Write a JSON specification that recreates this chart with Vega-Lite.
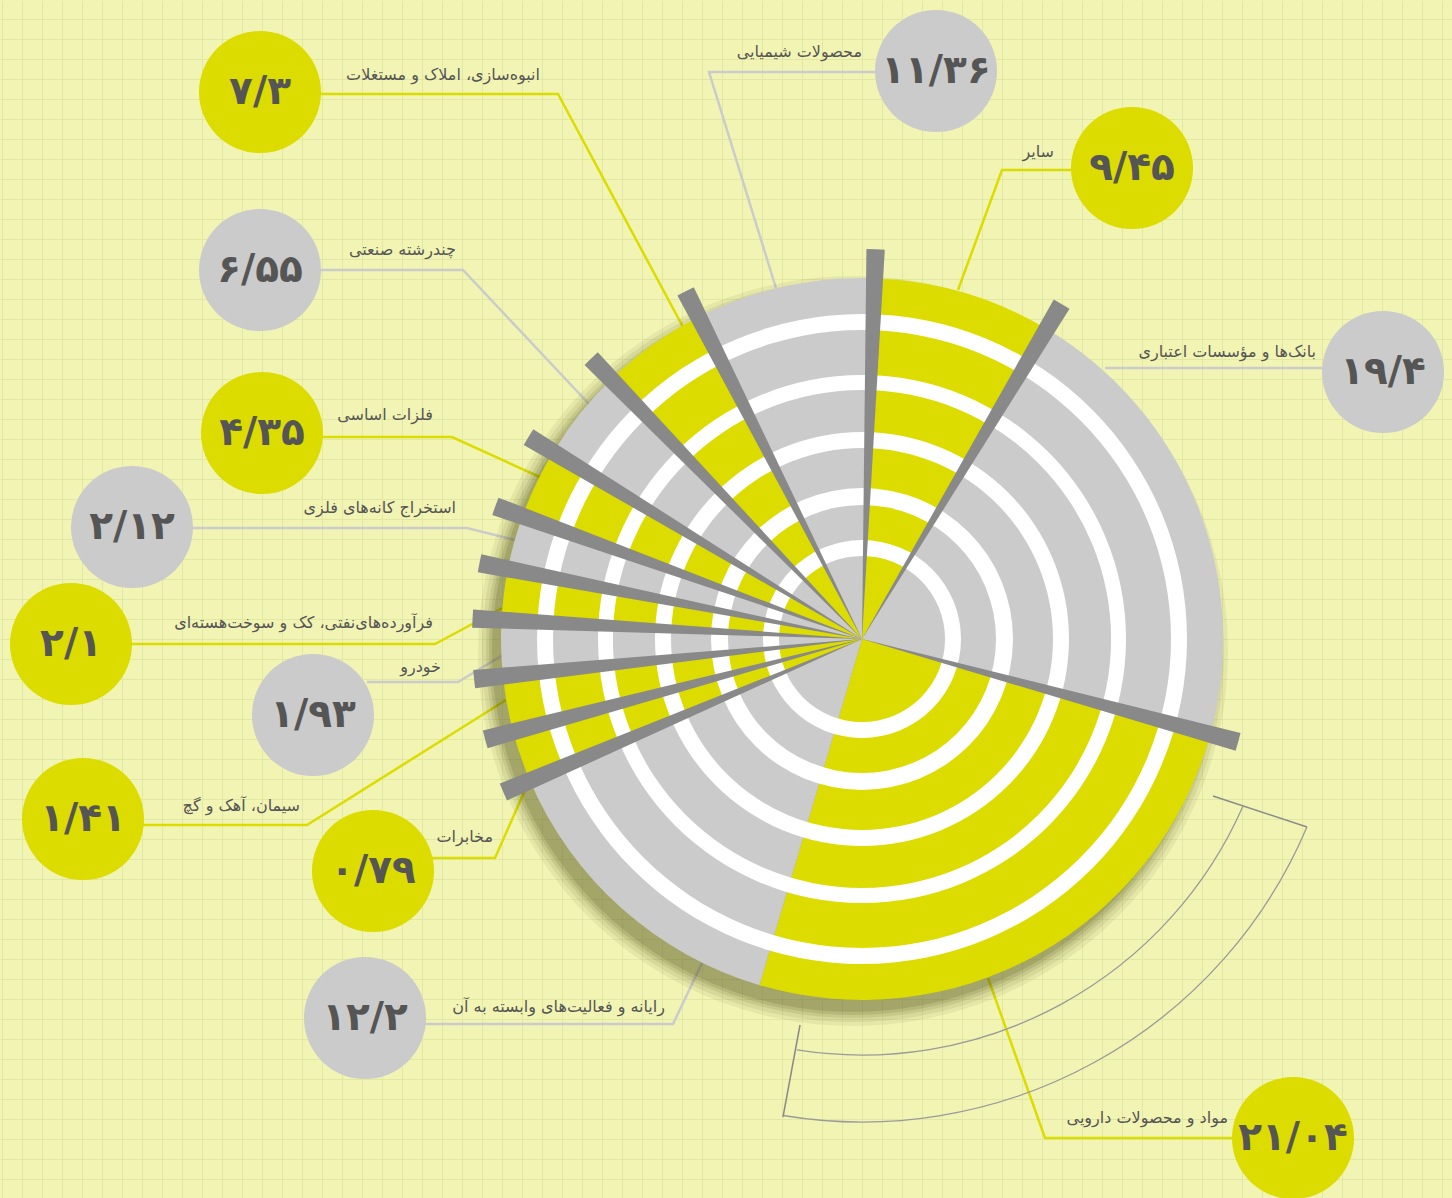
{
  "$schema": "https://vega.github.io/schema/vega-lite/v6.json",
  "width": 1452,
  "height": 1198,
  "autosize": {"type": "none"},
  "padding": 0,
  "background": "#f2f4b4",
  "config": {
    "view": {"stroke": null},
    "axis": {"grid": true, "gridColor": "#e1e8a3", "gridWidth": 1, "domain": false, "ticks": false, "labels": false, "title": null},
    "axisX": {"tickCount": 75},
    "axisY": {"tickCount": 60}
  },
  "datasets": {
    "sectors": [
      {"name": "سایر", "v": "۹/۴۵", "a0": 2.0, "a1": 30.8, "c": "y", "cx": 270, "cy": 471, "tx": 192, "ty": 487},
      {"name": "بانک‌ها و مؤسسات اعتباری", "v": "۱۹/۴", "a0": 30.8, "a1": 105.3, "c": "g", "cx": 521, "cy": 267, "tx": 454, "ty": 287},
      {"name": "مواد و محصولات دارویی", "v": "۲۱/۰۴", "a0": 105.3, "a1": 196.5, "c": "y", "cx": 431, "cy": -499, "tx": 366, "ty": -479},
      {"name": "رایانه و فعالیت‌های وابسته به آن", "v": "۱۲/۲", "a0": 196.5, "a1": 246.9, "c": "g", "cx": -497, "cy": -379, "tx": -197, "ty": -368},
      {"name": "مخابرات", "v": "۰/۷۹", "a0": 246.9, "a1": 255.1, "c": "y", "cx": -489, "cy": -232, "tx": -369, "ty": -198},
      {"name": "سیمان، آهک و گچ", "v": "۱/۴۱", "a0": 255.1, "a1": 264.1, "c": "y", "cx": -779, "cy": -180, "tx": -562, "ty": -167},
      {"name": "خودرو", "v": "۱/۹۳", "a0": 264.1, "a1": 273.0, "c": "g", "cx": -549, "cy": -76, "tx": -421, "ty": -28},
      {"name": "فرآورده‌های‌نفتی، کک و سوخت‌هسته‌ای", "v": "۲/۱", "a0": 273.0, "a1": 281.2, "c": "y", "cx": -791, "cy": -5, "tx": -429, "ty": 16},
      {"name": "استخراج کانه‌های فلزی", "v": "۲/۱۲", "a0": 281.2, "a1": 289.9, "c": "g", "cx": -730, "cy": 112, "tx": -406, "ty": 131},
      {"name": "فلزات اساسی", "v": "۴/۳۵", "a0": 289.9, "a1": 301.2, "c": "y", "cx": -600, "cy": 206, "tx": -429, "ty": 224},
      {"name": "چندرشته صنعتی", "v": "۶/۵۵", "a0": 301.2, "a1": 316.0, "c": "g", "cx": -602, "cy": 369, "tx": -406, "ty": 389},
      {"name": "انبوه‌سازی، املاک و مستغلات", "v": "۷/۳", "a0": 316.0, "a1": 333.1, "c": "y", "cx": -602, "cy": 547, "tx": -322, "ty": 564},
      {"name": "محصولات شیمیایی", "v": "۱۱/۳۶", "a0": 333.1, "a1": 362.0, "c": "g", "cx": 74, "cy": 568, "tx": 0, "ty": 587}
    ],
    "wedges": [
      {"w0": 0.65, "w1": 3.35},
      {"w0": 29.45, "w1": 32.15},
      {"w0": 103.95, "w1": 106.65},
      {"w0": 245.55, "w1": 248.25},
      {"w0": 253.75, "w1": 256.45},
      {"w0": 262.75, "w1": 265.45},
      {"w0": 271.65, "w1": 274.35},
      {"w0": 279.85, "w1": 282.55},
      {"w0": 288.55, "w1": 291.25},
      {"w0": 299.85, "w1": 302.55},
      {"w0": 314.65, "w1": 317.35},
      {"w0": 331.75, "w1": 334.45}
    ],
    "leaders": [
      {"id": 1, "o": 0, "x": 13, "y": 567, "c": "g"}, {"id": 1, "o": 1, "x": -153, "y": 567, "c": "g"}, {"id": 1, "o": 2, "x": -86, "y": 351, "c": "g"},
      {"id": 2, "o": 0, "x": 210, "y": 469, "c": "y"}, {"id": 2, "o": 1, "x": 140, "y": 469, "c": "y"}, {"id": 2, "o": 2, "x": 96, "y": 349, "c": "y"},
      {"id": 3, "o": 0, "x": 461, "y": 271, "c": "g"}, {"id": 3, "o": 1, "x": 243, "y": 271, "c": "g"},
      {"id": 4, "o": 0, "x": 370, "y": -499, "c": "y"}, {"id": 4, "o": 1, "x": 183, "y": -499, "c": "y"}, {"id": 4, "o": 2, "x": 126, "y": -339, "c": "y"},
      {"id": 5, "o": 0, "x": -437, "y": -385, "c": "g"}, {"id": 5, "o": 1, "x": -189, "y": -385, "c": "g"}, {"id": 5, "o": 2, "x": -160, "y": -324, "c": "g"},
      {"id": 6, "o": 0, "x": -430, "y": -219, "c": "y"}, {"id": 6, "o": 1, "x": -367, "y": -219, "c": "y"}, {"id": 6, "o": 2, "x": -333, "y": -142, "c": "y"},
      {"id": 7, "o": 0, "x": -719, "y": -186, "c": "y"}, {"id": 7, "o": 1, "x": -555, "y": -186, "c": "y"}, {"id": 7, "o": 2, "x": -356, "y": -61, "c": "y"},
      {"id": 8, "o": 0, "x": -495, "y": -43, "c": "g"}, {"id": 8, "o": 1, "x": -404, "y": -43, "c": "g"}, {"id": 8, "o": 2, "x": -359, "y": -16, "c": "g"},
      {"id": 9, "o": 0, "x": -730, "y": -5, "c": "y"}, {"id": 9, "o": 1, "x": -427, "y": -5, "c": "y"}, {"id": 9, "o": 2, "x": -360, "y": 31, "c": "y"},
      {"id": 10, "o": 0, "x": -669, "y": 111, "c": "g"}, {"id": 10, "o": 1, "x": -395, "y": 111, "c": "g"}, {"id": 10, "o": 2, "x": -347, "y": 99, "c": "g"},
      {"id": 11, "o": 0, "x": -540, "y": 202, "c": "y"}, {"id": 11, "o": 1, "x": -410, "y": 202, "c": "y"}, {"id": 11, "o": 2, "x": -320, "y": 161, "c": "y"},
      {"id": 12, "o": 0, "x": -542, "y": 369, "c": "g"}, {"id": 12, "o": 1, "x": -399, "y": 369, "c": "g"}, {"id": 12, "o": 2, "x": -272, "y": 234, "c": "g"},
      {"id": 13, "o": 0, "x": -542, "y": 545, "c": "y"}, {"id": 13, "o": 1, "x": -304, "y": 545, "c": "y"}, {"id": 13, "o": 2, "x": -179, "y": 312, "c": "y"}
    ],
    "ticks": [
      {"x": 351, "y": -157, "x2": 445, "y2": -188},
      {"x": -62, "y": -386, "x2": -79, "y2": -478}
    ],
    "brackets": [
      {"b0": 113.7, "b1": 189.0}
    ],
    "brackets2": [
      {"b0": 112.9, "b1": 189.4}
    ]
  },
  "layer": [
    {
      "data": {"name": "leaders"},
      "mark": {"type": "line", "strokeWidth": 2.5},
      "encoding": {
        "x": {"field": "x", "type": "quantitative", "scale": {"domain": [-862, 590], "nice": false, "zero": false}},
        "y": {"field": "y", "type": "quantitative", "scale": {"domain": [-559, 639], "nice": false, "zero": false}},
        "detail": {"field": "id", "type": "nominal"},
        "order": {"field": "o", "type": "quantitative"},
        "color": {"field": "c", "type": "nominal", "scale": {"domain": ["y", "g"], "range": ["#dcdc00", "#cbcbcb"]}, "legend": null}
      }
    },
    {
      "data": {"values": [{}]},
      "mark": {"type": "arc", "outerRadius": 375, "theta": 0, "theta2": 6.2832, "fill": "#4d4d12", "opacity": 0.07},
      "encoding": {
        "x": {"datum": -9, "type": "quantitative", "scale": {"domain": [-862, 590], "nice": false, "zero": false}},
        "y": {"datum": -12, "type": "quantitative", "scale": {"domain": [-559, 639], "nice": false, "zero": false}}
      }
    },
    {
      "data": {"values": [{}]},
      "mark": {"type": "arc", "outerRadius": 371, "theta": 0, "theta2": 6.2832, "fill": "#4d4d12", "opacity": 0.09},
      "encoding": {
        "x": {"datum": -9, "type": "quantitative", "scale": {"domain": [-862, 590], "nice": false, "zero": false}},
        "y": {"datum": -12, "type": "quantitative", "scale": {"domain": [-559, 639], "nice": false, "zero": false}}
      }
    },
    {
      "data": {"values": [{}]},
      "mark": {"type": "arc", "outerRadius": 367, "theta": 0, "theta2": 6.2832, "fill": "#4d4d12", "opacity": 0.11},
      "encoding": {
        "x": {"datum": -9, "type": "quantitative", "scale": {"domain": [-862, 590], "nice": false, "zero": false}},
        "y": {"datum": -12, "type": "quantitative", "scale": {"domain": [-559, 639], "nice": false, "zero": false}}
      }
    },
    {
      "data": {"values": [{}]},
      "mark": {"type": "arc", "outerRadius": 364, "theta": 0, "theta2": 6.2832, "fill": "#4d4d12", "opacity": 0.14},
      "encoding": {
        "x": {"datum": -9, "type": "quantitative", "scale": {"domain": [-862, 590], "nice": false, "zero": false}},
        "y": {"datum": -12, "type": "quantitative", "scale": {"domain": [-559, 639], "nice": false, "zero": false}}
      }
    },
    {
      "data": {"values": [{}]},
      "mark": {"type": "arc", "outerRadius": 361, "theta": 0, "theta2": 6.2832, "fill": "#4d4d12", "opacity": 0.17},
      "encoding": {
        "x": {"datum": -9, "type": "quantitative", "scale": {"domain": [-862, 590], "nice": false, "zero": false}},
        "y": {"datum": -12, "type": "quantitative", "scale": {"domain": [-559, 639], "nice": false, "zero": false}}
      }
    },
    {
      "data": {"name": "sectors"},
      "mark": {"type": "arc", "outerRadius": 361},
      "encoding": {
        "x": {"datum": 0, "type": "quantitative", "scale": {"domain": [-862, 590], "nice": false, "zero": false}},
        "y": {"datum": 0, "type": "quantitative", "scale": {"domain": [-559, 639], "nice": false, "zero": false}},
        "theta": {"field": "a0", "type": "quantitative", "stack": null, "scale": {"domain": [0, 360], "range": [0, 6.283185307179586]}},
        "theta2": {"field": "a1"},
        "color": {"field": "c", "type": "nominal", "scale": {"domain": ["y", "g"], "range": ["#dcdc00", "#cbcbcb"]}, "legend": null}
      }
    },
    {
      "data": {"values": [{}]},
      "mark": {"type": "arc", "outerRadius": 99, "innerRadius": 83, "theta": 0, "theta2": 6.2832, "fill": "#ffffff"},
      "encoding": {
        "x": {"datum": 0, "type": "quantitative", "scale": {"domain": [-862, 590], "nice": false, "zero": false}},
        "y": {"datum": 0, "type": "quantitative", "scale": {"domain": [-559, 639], "nice": false, "zero": false}}
      }
    },
    {
      "data": {"values": [{}]},
      "mark": {"type": "arc", "outerRadius": 151, "innerRadius": 134, "theta": 0, "theta2": 6.2832, "fill": "#ffffff"},
      "encoding": {
        "x": {"datum": 0, "type": "quantitative", "scale": {"domain": [-862, 590], "nice": false, "zero": false}},
        "y": {"datum": 0, "type": "quantitative", "scale": {"domain": [-559, 639], "nice": false, "zero": false}}
      }
    },
    {
      "data": {"values": [{}]},
      "mark": {"type": "arc", "outerRadius": 207, "innerRadius": 191, "theta": 0, "theta2": 6.2832, "fill": "#ffffff"},
      "encoding": {
        "x": {"datum": 0, "type": "quantitative", "scale": {"domain": [-862, 590], "nice": false, "zero": false}},
        "y": {"datum": 0, "type": "quantitative", "scale": {"domain": [-559, 639], "nice": false, "zero": false}}
      }
    },
    {
      "data": {"values": [{}]},
      "mark": {"type": "arc", "outerRadius": 264, "innerRadius": 249, "theta": 0, "theta2": 6.2832, "fill": "#ffffff"},
      "encoding": {
        "x": {"datum": 0, "type": "quantitative", "scale": {"domain": [-862, 590], "nice": false, "zero": false}},
        "y": {"datum": 0, "type": "quantitative", "scale": {"domain": [-559, 639], "nice": false, "zero": false}}
      }
    },
    {
      "data": {"values": [{}]},
      "mark": {"type": "arc", "outerRadius": 325, "innerRadius": 309, "theta": 0, "theta2": 6.2832, "fill": "#ffffff"},
      "encoding": {
        "x": {"datum": 0, "type": "quantitative", "scale": {"domain": [-862, 590], "nice": false, "zero": false}},
        "y": {"datum": 0, "type": "quantitative", "scale": {"domain": [-559, 639], "nice": false, "zero": false}}
      }
    },
    {
      "data": {"name": "wedges"},
      "mark": {"type": "arc", "outerRadius": 390, "fill": "#898989"},
      "encoding": {
        "x": {"datum": 0, "type": "quantitative", "scale": {"domain": [-862, 590], "nice": false, "zero": false}},
        "y": {"datum": 0, "type": "quantitative", "scale": {"domain": [-559, 639], "nice": false, "zero": false}},
        "theta": {"field": "w0", "type": "quantitative", "stack": null, "scale": {"domain": [0, 360], "range": [0, 6.283185307179586]}},
        "theta2": {"field": "w1"}
      }
    },
    {
      "data": {"name": "brackets"},
      "mark": {"type": "arc", "outerRadius": 416, "innerRadius": 416, "fill": null, "fillOpacity": 0, "stroke": "#9a9a9a", "strokeWidth": 1.3},
      "encoding": {
        "x": {"datum": 0, "type": "quantitative", "scale": {"domain": [-862, 590], "nice": false, "zero": false}},
        "y": {"datum": 0, "type": "quantitative", "scale": {"domain": [-559, 639], "nice": false, "zero": false}},
        "theta": {"field": "b0", "type": "quantitative", "stack": null, "scale": {"domain": [0, 360], "range": [0, 6.283185307179586]}},
        "theta2": {"field": "b1"}
      }
    },
    {
      "data": {"name": "brackets2"},
      "mark": {"type": "arc", "outerRadius": 483, "innerRadius": 483, "fill": null, "fillOpacity": 0, "stroke": "#9a9a9a", "strokeWidth": 1.3},
      "encoding": {
        "x": {"datum": 0, "type": "quantitative", "scale": {"domain": [-862, 590], "nice": false, "zero": false}},
        "y": {"datum": 0, "type": "quantitative", "scale": {"domain": [-559, 639], "nice": false, "zero": false}},
        "theta": {"field": "b0", "type": "quantitative", "stack": null, "scale": {"domain": [0, 360], "range": [0, 6.283185307179586]}},
        "theta2": {"field": "b1"}
      }
    },
    {
      "data": {"name": "ticks"},
      "mark": {"type": "rule", "stroke": "#8a8a8a", "strokeWidth": 1.5},
      "encoding": {
        "x": {"field": "x", "type": "quantitative", "scale": {"domain": [-862, 590], "nice": false, "zero": false}},
        "y": {"field": "y", "type": "quantitative", "scale": {"domain": [-559, 639], "nice": false, "zero": false}},
        "x2": {"field": "x2"},
        "y2": {"field": "y2"}
      }
    },
    {
      "data": {"name": "sectors"},
      "mark": {"type": "circle", "size": 14900, "opacity": 1},
      "encoding": {
        "x": {"field": "cx", "type": "quantitative", "scale": {"domain": [-862, 590], "nice": false, "zero": false}},
        "y": {"field": "cy", "type": "quantitative", "scale": {"domain": [-559, 639], "nice": false, "zero": false}},
        "color": {"field": "c", "type": "nominal", "scale": {"domain": ["y", "g"], "range": ["#dcdc00", "#cbcbcb"]}, "legend": null}
      }
    },
    {
      "data": {"name": "sectors"},
      "mark": {"type": "text", "font": "DejaVu Sans", "fontWeight": "bold", "fontSize": 39, "fill": "#555555", "align": "center", "baseline": "middle"},
      "encoding": {
        "x": {"field": "cx", "type": "quantitative", "scale": {"domain": [-862, 590], "nice": false, "zero": false}},
        "y": {"field": "cy", "type": "quantitative", "scale": {"domain": [-559, 639], "nice": false, "zero": false}},
        "text": {"field": "v"}
      }
    },
    {
      "data": {"name": "sectors"},
      "mark": {"type": "text", "font": "DejaVu Sans", "fontSize": 16, "fill": "#555555", "align": "right", "baseline": "middle"},
      "encoding": {
        "x": {"field": "tx", "type": "quantitative", "scale": {"domain": [-862, 590], "nice": false, "zero": false}},
        "y": {"field": "ty", "type": "quantitative", "scale": {"domain": [-559, 639], "nice": false, "zero": false}},
        "text": {"field": "name"}
      }
    }
  ]
}
